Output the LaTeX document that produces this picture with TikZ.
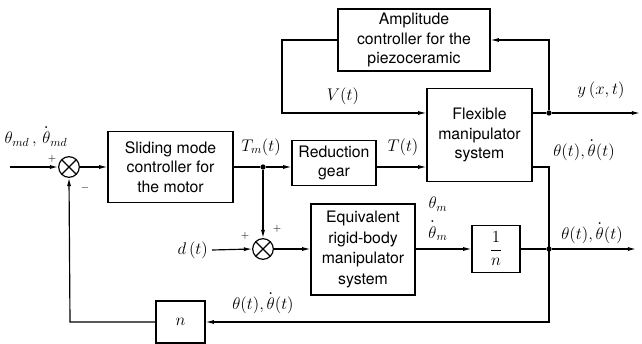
\documentclass[tikz,border=0pt]{standalone}
\usepackage{amsmath}
\usepackage{fontspec}
\setsansfont{TeX Gyre Heros}
\usetikzlibrary{arrows.meta,positioning,calc}

\newcommand{\thdot}{\overset{\textbf{.}}{\theta}}

\begin{document}
\begin{tikzpicture}[
  x=0.03cm, y=-0.03cm,
  block/.style={draw, line width=1pt, align=center, inner sep=0pt, font=\sffamily\fontsize{13.5}{16.8}\selectfont},
  sumnode/.style={draw, circle, line width=1pt, minimum size=0.62cm, inner sep=0pt,
    path picture={\draw[line width=1pt] (path picture bounding box.north west) -- (path picture bounding box.south east)
      (path picture bounding box.north east) -- (path picture bounding box.south west);}},
  wire/.style={line width=1pt},
  arr/.style={wire, -{Latex[length=7pt,width=3.5pt]}},
  lbl/.style={font=\fontsize{14.5}{16}\selectfont},
  sgn/.style={font=\small},
  jdot/.style={circle, fill, inner sep=0pt, minimum size=4.5pt},
]

\useasboundingbox (0,0) rectangle (642,344);

% --- Blocks ---
\node[block, minimum width=4.56cm, minimum height=1.86cm] (amp) at (414,40) {Amplitude\\controller for the\\piezoceramic};
\node[block, minimum width=3.75cm, minimum height=2.13cm] (slide) at (170.5,167) {Sliding mode\\controller for\\the motor};
\node[block, minimum width=2.52cm, minimum height=1.35cm] (red) at (334,163) {Reduction\\gear};
\node[block, minimum width=3.15cm, minimum height=2.8cm] (flex) at (479.5,135) {Flexible\\manipulator\\system};
\node[block, minimum width=3.12cm, minimum height=2.73cm, font=\sffamily\fontsize{13.5}{17.5}\selectfont] (equiv) at (363,249.5) {Equivalent\\rigid-body\\manipulator\\system};
\node[block, minimum width=1.44cm, minimum height=1.41cm, font=\fontsize{14}{16}\selectfont] (inv) at (496,249) {$\dfrac{1}{n}$};
\node[block, minimum width=1.47cm, minimum height=1.26cm, font=\fontsize{14.5}{16}\selectfont] (nbox) at (180.5,322) {$n$};

% --- Summing junctions ---
\node[sumnode] (sum1) at (69,167) {};
\node[sumnode] (sum2) at (263,249) {};

% --- Points ---
\coordinate (in) at (10,167);
\node[jdot] (tmdot) at (263,167) {};
\coordinate (vturn1) at (282,40);
\coordinate (vturn2) at (282,113);
\node[jdot] (ydot) at (549,113) {};
\coordinate (yend) at (640,113);
\coordinate (tcorner) at (549,167);
\coordinate (fbcorner) at (549,322);
\coordinate (fbleft) at (70,322);
\node[jdot] (odot) at (549,249) {};
\coordinate (oend) at (636,249);
\node[lbl, anchor=east] (din) at (212,250) {$d\,(t)$};

% --- Connectors ---
\draw[arr] (in) -- (sum1.west);
\draw[arr] (sum1.east) -- (slide.west);
\draw[wire] (slide.east) -- (tmdot);
\draw[arr] (tmdot) -- (red.west |- tmdot);
\draw[arr] (red.east |- tmdot) -- (flex.west |- tmdot);
\draw[arr] (amp.west) -- (vturn1) -- (vturn2) -- (flex.west |- vturn2);
\draw[wire] (flex.east |- ydot) -- (ydot);
\draw[arr] (ydot) -- (yend);
\draw[arr] (ydot) |- (amp.east);
\draw[arr] (flex.east |- tcorner) -- (tcorner) -- (fbcorner) -- (nbox.east);
\draw[arr] (nbox.west) -- (fbleft) -- (sum1.south);
\draw[arr] (tmdot) -- (sum2.north);
\draw[arr] (din.east) -- (sum2.west);
\draw[arr] (sum2.east) -- (equiv.west |- sum2);
\draw[arr] (equiv.east |- sum2) -- (inv.west);
\draw[wire] (inv.east) -- (odot);
\draw[arr] (odot) -- (oend);

% --- Labels ---
\node[lbl] at (36,136) {$\theta_{md}\,,\,\thdot_{md}$};
\node[sgn] at (52,159) {$+$};
\node[sgn] at (85,188) {$-$};
\node[lbl] at (261,147) {$T_m(t)$};
\node[lbl] at (403,147) {$T(t)$};
\node[lbl] at (343,96) {$V(t)$};
\node[lbl] at (601,90) {$y\,(x,t)$};
\node[lbl] at (584,149) {$\theta(t),\thdot(t)$};
\node[lbl] at (438,204) {$\theta_m$};
\node[lbl] at (438,230) {$\thdot_m$};
\node[lbl] at (592,232) {$\theta(t),\thdot(t)$};
\node[lbl] at (263,302) {$\theta(t),\thdot(t)$};
\node[sgn] at (245,236) {$+$};
\node[sgn] at (277,229) {$+$};

\end{tikzpicture}
\end{document}
